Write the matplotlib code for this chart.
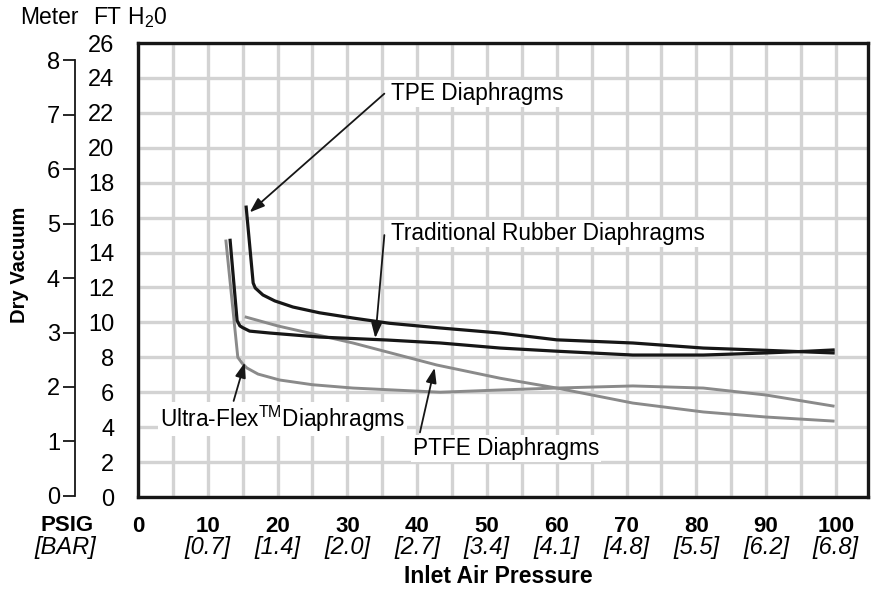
import matplotlib
matplotlib.use("Agg")
import matplotlib.pyplot as plt

plt.rcParams['font.family'] = ['Liberation Sans', 'DejaVu Sans']
plt.rcParams['mathtext.fontset'] = 'custom'
plt.rcParams['mathtext.rm'] = 'Liberation Sans'

# inlet air pressure (psig) vs dry vacuum (ft H2O)
tpe_x = [15.5, 16.5, 16.8, 17.9, 19.6, 22.2, 26, 30.8, 36, 43.3, 51.9, 60, 70.9, 81, 90, 99.6]
tpe_y = [16.6, 12.26, 11.97, 11.57, 11.23, 10.88, 10.55, 10.25, 9.95, 9.68, 9.39, 9.0, 8.82, 8.53, 8.4, 8.25]

rubber_x = [13.2, 14.2, 14.6, 15.0, 16.0, 18.9, 26, 35.7, 43.3, 51.9, 60, 70.9, 81, 90, 96, 99.6]
rubber_y = [14.7, 10.1, 9.8, 9.7, 9.5, 9.39, 9.16, 8.99, 8.82, 8.53, 8.35, 8.13, 8.13, 8.25, 8.35, 8.42]

ptfe_x = [15.5, 20, 30.8, 42.8, 51.9, 60, 70.9, 81, 90, 99.6]
ptfe_y = [10.3, 9.8, 8.82, 7.56, 6.8, 6.24, 5.38, 4.87, 4.58, 4.35]

uflex_x = [12.6, 14.3, 14.9, 15.6, 17.2, 20.3, 25, 30.8, 43.3, 51.9, 60, 70.9, 81, 90, 99.6]
uflex_y = [14.66, 8.0, 7.67, 7.39, 7.04, 6.7, 6.43, 6.24, 6.0, 6.13, 6.24, 6.36, 6.24, 5.84, 5.21]

psig_ticks = [0, 10, 20, 30, 40, 50, 60, 70, 80, 90, 100]
bar_labels = ['', '[0.7]', '[1.4]', '[2.0]', '[2.7]', '[3.4]', '[4.1]', '[4.8]', '[5.5]', '[6.2]', '[6.8]']
ft_ticks = list(range(0, 27, 2))
meter_ticks = list(range(0, 9))

black = '#161616'
gray = '#8a8a8a'

fig = plt.figure(figsize=(8.74, 5.91), dpi=100)
ax = fig.add_axes([138 / 874, 94 / 591, 730 / 874, 454 / 591])

ax.set_xlim(0, 104.6)
ax.set_ylim(0, 26)
ax.set_xticks(range(0, 105, 5), minor=True)
ax.set_xticks(psig_ticks)
ax.set_xticklabels([str(t) for t in psig_ticks], fontweight='bold', fontsize=16)
ax.set_yticks(ft_ticks)
ax.set_yticklabels([str(t) for t in ft_ticks], fontsize=17)
ax.tick_params(axis='both', which='both', length=0)
ax.tick_params(axis='x', pad=14)
ax.tick_params(axis='y', pad=17)
ax.grid(True, which='both', color='#d3d3d3', lw=2.4)
ax.set_axisbelow(True)
for s in ax.spines.values():
    s.set_linewidth(2.4)
    s.set_color(black)

ax.plot(tpe_x, tpe_y, color=black, lw=2.3, zorder=4, solid_joinstyle='round')
ax.plot(rubber_x, rubber_y, color=black, lw=2.3, zorder=4, solid_joinstyle='round')
ax.plot(ptfe_x, ptfe_y, color=gray, lw=2.1, zorder=3, solid_joinstyle='round')
ax.plot(uflex_x, uflex_y, color=gray, lw=2.1, zorder=3, solid_joinstyle='round')

# bar labels under the psig numbers
for t, lab in zip(psig_ticks, bar_labels):
    ax.text(t, -0.112, lab, transform=ax.get_xaxis_transform(), ha='center', va='center',
            fontsize=17, fontstyle='italic')
ax.text(-0.097, -0.062, 'PSIG', transform=ax.transAxes, ha='center', va='center',
        fontsize=16, fontweight='bold')
ax.text(-0.099, -0.112, '[BAR]', transform=ax.transAxes, ha='center', va='center',
        fontsize=17, fontstyle='italic')
ax.text(0.493, -0.176, 'Inlet Air Pressure', transform=ax.transAxes, ha='center', va='center',
        fontsize=16.5, fontweight='bold')

# meter scale
sec = ax.secondary_yaxis(-0.086, functions=(lambda f: (f - 0.06) / 3.12, lambda m: m * 3.12 + 0.06))
sec.set_yticks(meter_ticks)
sec.set_yticklabels([str(m) for m in meter_ticks], fontsize=17)
sec.tick_params(length=9, width=1.3, color=black, pad=2)
sec.spines['left'].set_bounds(0, 8)
sec.spines['left'].set_linewidth(1.3)
sec.spines['left'].set_color(black)

fig.text(49 / 874, 1 - 18 / 591, 'Meter', ha='center', va='center', fontsize=16.5)
fig.text(130 / 874, 1 - 18 / 591, r'FT H$_\mathregular{2}$0', ha='center', va='center', fontsize=16.5)
fig.text(20 / 874, 1 - 265 / 591, 'Dry Vacuum', ha='center', va='center', rotation=90,
         fontsize=14.5, fontweight='bold')

box = dict(facecolor='white', edgecolor='none', pad=1.5)
arrow = dict(arrowstyle='-|>,head_length=0.9,head_width=0.32', color=black, lw=1.3,
             shrinkA=0, shrinkB=0)

ax.text(36.2, 23.1, 'TPE Diaphragms', ha='left', va='center', fontsize=16.3, bbox=box, zorder=6)
ax.annotate('', xy=(16.0, 16.3), xytext=(35.3, 23.1), arrowprops=arrow, zorder=6)

ax.text(36.2, 15.1, 'Traditional Rubber Diaphragms', ha='left', va='center', fontsize=16.3,
        bbox=box, zorder=6)
ax.annotate('', xy=(34.0, 9.1), xytext=(35.3, 15.0), arrowprops=arrow, zorder=6)

ax.text(3.1, 4.45, r'Ultra-Flex$^{\mathregular{TM}}$Diaphragms', ha='left', va='center',
        fontsize=16.3, bbox=box, zorder=6)
ax.annotate('', xy=(15.3, 7.7), xytext=(13.7, 5.5), arrowprops=arrow, zorder=6)

ax.text(39.4, 2.8, 'PTFE Diaphragms', ha='left', va='center', fontsize=16.3, bbox=box, zorder=6)
ax.annotate('', xy=(42.5, 7.4), xytext=(40.4, 3.7), arrowprops=arrow, zorder=6)

fig.savefig('out.png', dpi=100)
